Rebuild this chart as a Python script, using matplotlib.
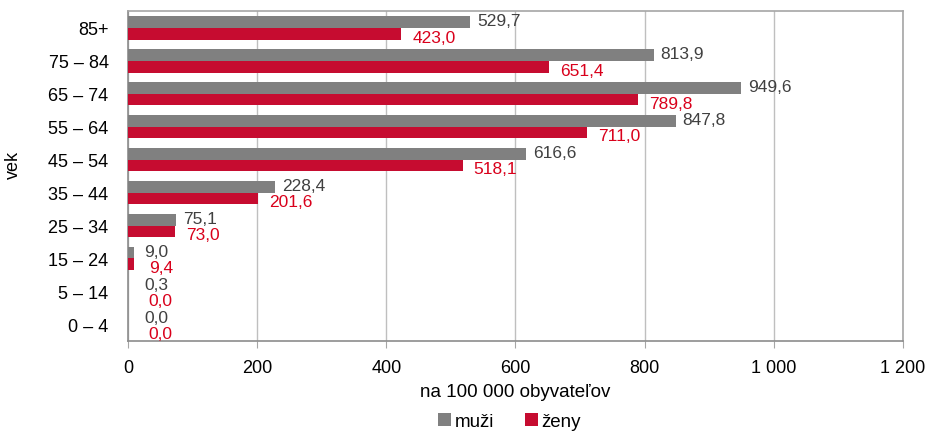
import numpy as np
import matplotlib.pyplot as plt
from matplotlib.ticker import FuncFormatter

# data
age_groups = ["85+", "75 – 84", "65 – 74", "55 – 64", "45 – 54", "35 – 44",
              "25 – 34", "15 – 24", "5 – 14", "0 – 4"]
muzi = [529.7, 813.9, 949.6, 847.8, 616.6, 228.4, 75.1, 9.0, 0.3, 0.0]
zeny = [423.0, 651.4, 789.8, 711.0, 518.1, 201.6, 73.0, 9.4, 0.0, 0.0]
x_ticks = [0, 200, 400, 600, 800, 1000, 1200]

# colors
GRAY = "#808080"
RED = "#C60C30"
GRAY_TXT = "#404040"
RED_TXT = "#D9001B"

plt.rcParams["font.family"] = ["Liberation Sans", "DejaVu Sans"]

fig = plt.figure(figsize=(9.3, 4.35), dpi=100)
ax = fig.add_axes([0.1376, 0.214, 0.8334, 0.758])

pos = np.arange(len(age_groups))
h = 0.36
ax.barh(pos - h / 2, muzi, height=h, color=GRAY, label="muži", zorder=3)
ax.barh(pos + h / 2, zeny, height=h, color=RED, label="ženy", zorder=3)

# data labels
for p, m, z in zip(pos, muzi, zeny):
    ax.annotate(f"{m:.1f}".replace(".", ","), (max(m, 15), p - h / 2),
                xytext=(5, 1), textcoords="offset points",
                va="center", ha="left", fontsize=12.5, color=GRAY_TXT)
    ax.annotate(f"{z:.1f}".replace(".", ","), (max(z, 15), p + h / 2),
                xytext=(8, -2.5), textcoords="offset points",
                va="center", ha="left", fontsize=12.5, color=RED_TXT)

ax.set_ylim(len(age_groups) - 0.5, -0.5)
ax.set_yticks(pos)
ax.set_yticklabels(age_groups, fontsize=13)
ax.tick_params(axis="y", length=0, pad=14)

ax.set_xlim(0, 1200)
ax.set_xticks(x_ticks)
ax.xaxis.set_major_formatter(FuncFormatter(lambda v, _: f"{int(v):,}".replace(",", " ")))
ax.tick_params(axis="x", labelsize=13, length=5, color="#A6A6A6", pad=8)
ax.grid(axis="x", color="#BFBFBF", linewidth=1, zorder=0)

for s in ax.spines.values():
    s.set_color("#A6A6A6")
    s.set_linewidth(1.2)
ax.spines["left"].set_color("#8C8C8C")
ax.spines["bottom"].set_color("#8C8C8C")

ax.set_xlabel("na 100 000 obyvateľov", fontsize=13.5, labelpad=5)
fig.text(0.014, 0.62, "vek", rotation=90, fontsize=13, va="center", ha="center")

fig.legend(loc="center", bbox_to_anchor=(0.548, 0.028), ncol=2, frameon=False,
           fontsize=13.5, handlelength=0.7, handleheight=0.7, handletextpad=0.2,
           columnspacing=1.6)

fig.savefig("out.png", dpi=100)
